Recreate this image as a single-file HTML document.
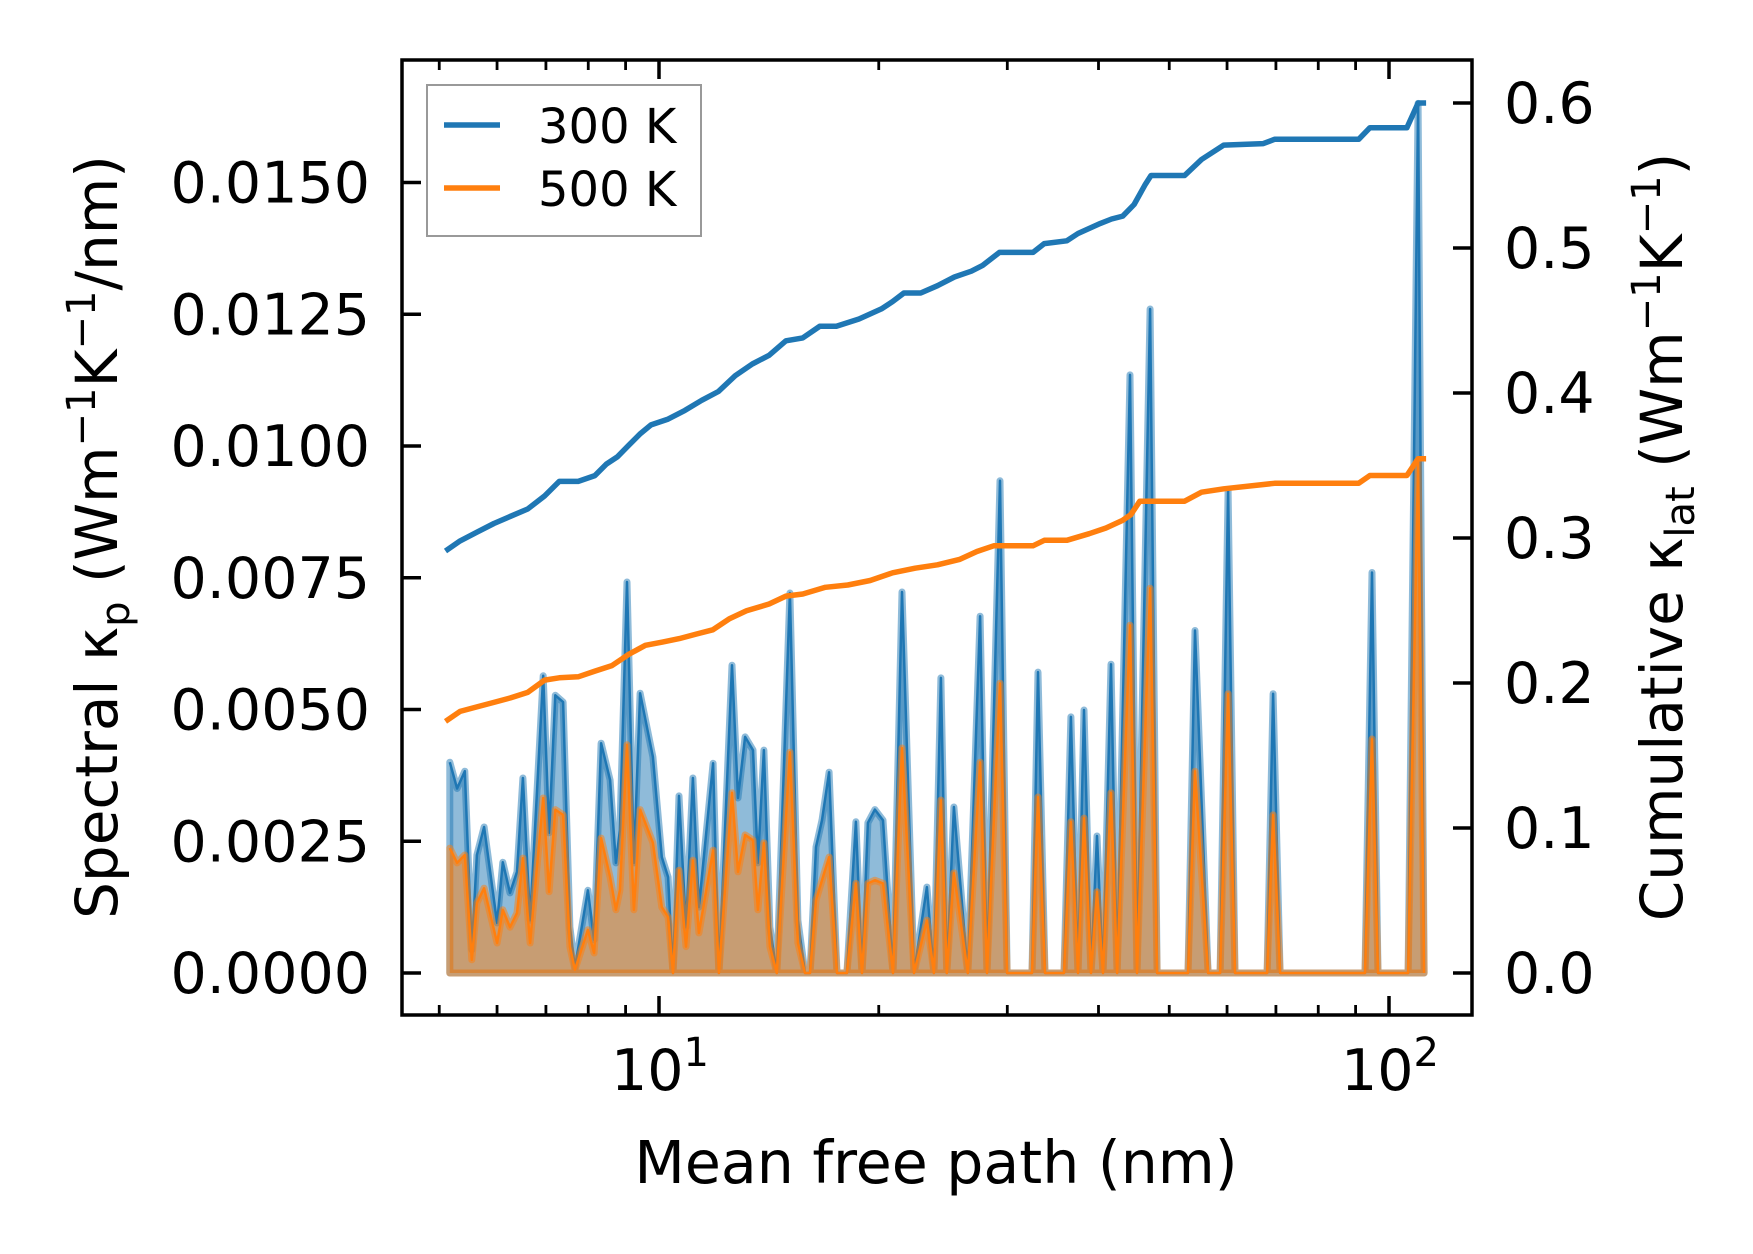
<!DOCTYPE html>
<html><head><meta charset="utf-8"><style>
html,body{margin:0;padding:0;background:#fff;}
svg{display:block;font-family:"DejaVu Sans","Liberation Sans",sans-serif;}
</style></head><body>
<svg id="chart" width="1753" height="1254" viewBox="0 0 1753 1254" xmlns="http://www.w3.org/2000/svg">
<rect width="1753" height="1254" fill="#fff"/>
<g id="plot"></g>
<g id="axes"></g>
</svg>
<script>
// Spectral data (mean free path in nm, kappa in units of 1e-3 W m^-1 K^-1 / nm)
const mfp = [5.17,5.29,5.42,5.54,5.63,5.76,6.00,6.11,6.25,6.39,6.51,6.66,6.94,7.07,7.21,7.39,7.55,7.67,7.99,8.15,8.33,8.57,8.73,8.84,9.04,9.24,9.42,9.81,10.09,10.29,10.45,10.65,10.89,11.13,11.34,11.86,12.08,12.59,12.83,13.12,13.45,13.66,13.92,14.19,14.50,15.11,15.50,15.85,16.10,16.41,16.72,17.10,17.53,18.09,18.61,18.97,19.33,19.76,20.27,20.92,21.52,22.35,23.28,23.80,24.33,24.79,25.35,26.49,27.53,28.14,29.32,29.98,32.43,33.05,33.79,35.87,36.67,37.50,38.21,39.07,39.81,40.57,41.61,42.41,44.18,45.17,47.07,48.12,53.05,54.23,56.51,58.70,60.20,61.52,68.07,69.37,70.92,92.70,94.78,96.58,106.2,109.6,111.7];
const spec300 = [4.0,3.5,3.83,0.44,2.24,2.77,0.95,2.1,1.52,1.92,3.7,1.0,5.64,2.66,5.27,5.14,0.87,0.1,1.57,0.63,4.36,3.66,2.09,2.71,7.42,2.09,5.31,4.1,2.2,1.82,0,3.36,0.87,3.7,1.25,3.98,0,5.84,3.32,4.48,4.23,2.09,4.23,0.87,0,7.21,1.0,0,0,2.39,2.9,3.81,0,0,2.87,0,2.85,3.1,2.9,0,7.23,0,1.63,0,5.6,0,3.15,0,6.77,0,9.34,0,0,5.71,0,0,4.86,0,4.99,0,2.6,0,5.86,0,11.35,0,12.6,0,0,6.5,0,0,9.15,0,0,5.3,0,0,7.6,0,0,16.5,0];
const spec500 = [2.37,2.09,2.24,0.25,1.33,1.61,0.57,1.2,0.87,1.14,2.18,0.57,3.32,1.54,3.1,3.0,0.5,0.06,0.82,0.38,2.56,1.82,1.2,1.57,4.33,1.2,3.1,2.47,1.25,1.06,0,1.95,0.5,2.14,0.76,2.33,0,3.42,1.92,2.62,2.52,1.2,2.47,0.5,0,4.19,0.57,0,0,1.38,1.76,2.2,0,0,1.7,0,1.7,1.76,1.7,0,4.27,0,1.0,0,3.28,0,1.9,0,4.0,0,5.5,0,0,3.34,0,0,2.87,0,2.94,0,1.54,0,3.42,0,6.6,0,7.3,0,0,3.83,0,0,5.3,0,0,3.0,0,0,4.44,0,0,9.7,0];
// Cumulative data
const cumMfp300 = [5.10,5.34,5.63,5.94,6.26,6.61,6.97,7.30,7.75,8.17,8.47,8.77,9.09,9.43,9.75,10.29,10.85,11.44,12.06,12.72,13.42,14.15,14.92,15.74,16.60,17.50,18.79,20.17,20.89,21.65,22.83,24.07,25.39,26.78,27.75,29.26,32.53,33.71,36.19,37.49,40.24,41.69,43.19,44.75,46.37,47.20,52.48,55.35,59.39,67.26,69.69,90.89,94.15,105.8,109.6,112.4];
const cum300 = [0.291,0.298,0.304,0.310,0.315,0.320,0.329,0.339,0.339,0.343,0.351,0.356,0.364,0.372,0.378,0.382,0.388,0.395,0.401,0.412,0.420,0.426,0.436,0.438,0.446,0.446,0.451,0.458,0.463,0.469,0.469,0.474,0.480,0.484,0.488,0.497,0.497,0.503,0.505,0.510,0.517,0.520,0.522,0.530,0.544,0.550,0.550,0.561,0.571,0.572,0.575,0.575,0.583,0.583,0.600,0.600];
const cumMfp500 = [5.10,5.34,5.63,5.94,6.26,6.61,6.97,7.30,7.75,8.17,8.62,9.09,9.58,10.11,10.66,11.24,11.85,12.50,13.18,14.15,14.92,15.74,16.90,18.14,19.47,20.89,22.43,24.07,25.84,27.26,28.74,32.53,33.71,36.19,38.84,40.96,43.19,44.29,45.56,52.48,55.35,59.39,69.69,90.89,94.15,105.8,109.6,112.4];
const cum500 = [0.1735,0.1804,0.1835,0.1866,0.1897,0.1935,0.202,0.2036,0.2043,0.2082,0.212,0.2198,0.226,0.2282,0.2306,0.2337,0.2367,0.2444,0.2498,0.2545,0.2599,0.2614,0.266,0.2676,0.2707,0.276,0.2792,0.2815,0.2853,0.2907,0.2946,0.2946,0.2984,0.2984,0.303,0.3069,0.3123,0.3161,0.3254,0.3254,0.3316,0.3339,0.3377,0.3377,0.3431,0.3431,0.3547,0.3547];
const leftTicks = [0,0.0025,0.005,0.0075,0.01,0.0125,0.015];
const leftTickLabels = ["0.0000","0.0025","0.0050","0.0075","0.0100","0.0125","0.0150"];
const rightTicks = [0,0.1,0.2,0.3,0.4,0.5,0.6];
const rightTickLabels = ["0.0","0.1","0.2","0.3","0.4","0.5","0.6"];
const xMajor = [10,100];
const xMajorExp = ["1","2"];
const xMinor = [5,6,7,8,9,20,30,40,50,60,70,80,90];

const L=402,R=1472,T=60,B=1015;
const X0=659, DEC=730;
function sx(v){return X0+(Math.log10(v)-1)*DEC;}
function syL(v){return 973-v*52700;}
function syR(v){return 973-v*1450;}
const NS="http://www.w3.org/2000/svg";
function mk(tag,attrs,parent){const e=document.createElementNS(NS,tag);for(const k in attrs)e.setAttribute(k,attrs[k]);parent.appendChild(e);return e;}
const plot=document.getElementById('plot'), axes=document.getElementById('axes');

function drawSpec(vals,color,name){
  let pts=mfp.map((m,i)=>[sx(m),syL(vals[i]*1e-3)]);
  let poly=[[sx(mfp[0]),syL(0)],...pts,[sx(mfp[mfp.length-1]),syL(0)]];
  const d='M'+poly.map(p=>p[0].toFixed(1)+','+p[1].toFixed(1)).join('L')+'Z';
  const f=mk('path',{d:d,fill:color,'fill-opacity':0.5,stroke:color,'stroke-opacity':0.5,'stroke-width':7,'stroke-linejoin':'round'},plot);
  
  
  const l=mk('path',{d:'M'+pts.map(p=>p[0].toFixed(1)+','+p[1].toFixed(1)).join('L'),fill:'none',stroke:color,'stroke-width':2.5,'stroke-linejoin':'round'},plot);
  
  
}
drawSpec(spec300,'#1f77b4','spectral-300k');
drawSpec(spec500,'#ff7f0e','spectral-500k');
function drawCum(xs,vals,color,name){
  const d='M'+xs.map((m,i)=>sx(m).toFixed(1)+','+syR(vals[i]).toFixed(1)).join('L');
  const l=mk('path',{d:d,fill:'none',stroke:color,'stroke-width':5.5,'stroke-linejoin':'round'},plot);
  
  
}
drawCum(cumMfp300,cum300,'#1f77b4','cumulative-300k');
drawCum(cumMfp500,cum500,'#ff7f0e','cumulative-500k');

const fr=mk('rect',{x:L,y:T,width:R-L,height:B-T,fill:'none',stroke:'#000','stroke-width':3.5},axes);


leftTicks.forEach((v,i)=>{
  const y=syL(v);
  const t=mk('line',{x1:L,x2:L+19,y1:y,y2:y,stroke:'#000','stroke-width':3.5},axes);
  
  
  const tx=mk('text',{x:370,y:y+20,'text-anchor':'end','font-size':57},axes);
  tx.textContent=leftTickLabels[i];
  
  
});
rightTicks.forEach((v,i)=>{
  const y=syR(v);
  const t=mk('line',{x1:R-19,x2:R,y1:y,y2:y,stroke:'#000','stroke-width':3.5},axes);
  
  
  const tx=mk('text',{x:1504,y:y+20,'text-anchor':'start','font-size':57},axes);
  tx.textContent=rightTickLabels[i];
  
  
});
xMajor.forEach((v,i)=>{
  const x=sx(v);
  [[B,B-19],[T,T+19]].forEach(p=>{
    const t=mk('line',{x1:x,x2:x,y1:p[0],y2:p[1],stroke:'#000','stroke-width':3.5},axes);
    
    
  });
  const tx=mk('text',{x:x-48,y:1090,'font-size':57},axes);
  
  
  tx.appendChild(document.createTextNode('10'));
  const sp=mk('tspan',{dy:-24,'font-size':40},tx);sp.textContent=xMajorExp[i];
});
xMinor.forEach(v=>{
  const x=sx(v);
  [[B,B-10],[T,T+10]].forEach(p=>{
    const t=mk('line',{x1:x,x2:x,y1:p[0],y2:p[1],stroke:'#000','stroke-width':2.8},axes);
    
    
  });
});
</script>
<script>
(function(){
const svg=document.getElementById('chart');
svg.insertAdjacentHTML('beforeend',
'<text x="936" y="1183" text-anchor="middle" font-size="58.5">Mean free path (nm)</text>'+
'<text transform="translate(117,537) rotate(-90)" text-anchor="middle" font-size="58">Spectral κ<tspan font-size="40" dy="12">p</tspan><tspan dy="-12"> (Wm</tspan><tspan font-size="40" dy="-22">−1</tspan><tspan dy="22">K</tspan><tspan font-size="40" dy="-22">−1</tspan><tspan dy="22">/nm)</tspan></text>'+
'<text transform="translate(1682,537) rotate(-90)" text-anchor="middle" font-size="58">Cumulative κ<tspan font-size="40" dy="12">lat</tspan><tspan dy="-12"> (Wm</tspan><tspan font-size="40" dy="-22">−1</tspan><tspan dy="22">K</tspan><tspan font-size="40" dy="-22">−1</tspan><tspan dy="22">)</tspan></text>'+
'<g><rect x="427" y="85" width="274" height="151" fill="#fff" fill-opacity="0.8" stroke="#999" stroke-width="2"/>'+
'<line x1="444" x2="500" y1="125" y2="125" stroke="#1f77b4" stroke-width="5.5"/>'+
'<text x="538" y="143" font-size="48">300 K</text>'+
'<line x1="444" x2="500" y1="188" y2="188" stroke="#ff7f0e" stroke-width="5.5"/>'+
'<text x="538" y="206" font-size="48">500 K</text></g>');
})();
</script>
</body></html>
